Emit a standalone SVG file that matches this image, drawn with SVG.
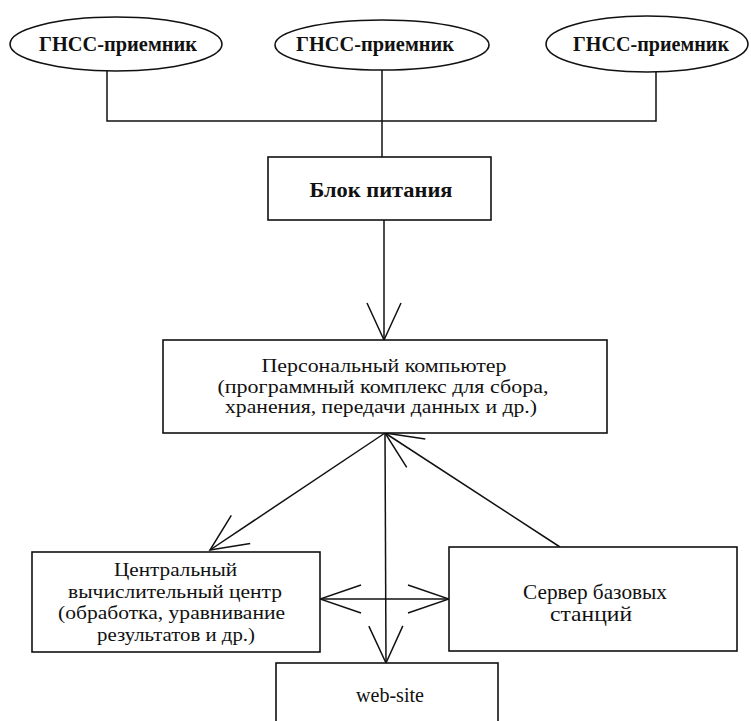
<svg xmlns="http://www.w3.org/2000/svg" width="751" height="721" viewBox="0 0 751 721">
<defs>
<style>
.box{fill:#fff;stroke:#111;stroke-width:1.6}
.ln{fill:none;stroke:#111;stroke-width:1.5}
.t{font-family:"Liberation Serif","Times New Roman",serif;fill:#111;text-anchor:middle}
.b{font-weight:bold;font-size:22px}
.r{font-size:19px}
.p{font-size:18.5px}
.w{font-size:21px}
</style>
<marker id="ah" markerUnits="userSpaceOnUse" viewBox="-40 -20 42 40" refX="0" refY="0" markerWidth="42" markerHeight="40" orient="auto">
<path d="M-37,-17 L0,0 L-37,17" fill="none" stroke="#111" stroke-width="1.5"/>
</marker>
<marker id="ah2" markerUnits="userSpaceOnUse" viewBox="-44 -16 46 32" refX="0" refY="0" markerWidth="46" markerHeight="32" orient="auto">
<path d="M-41,-14 L0,0 L-41,14" fill="none" stroke="#111" stroke-width="1.5"/>
</marker>
</defs>
<rect width="751" height="721" fill="#fff"/>
<g id="connectors">
<path class="ln" d="M107,71 V121 H656 V71"/>
<path class="ln" d="M382,70 V157"/>
<path class="ln" d="M384,220 V340" marker-end="url(#ah)"/>
<path class="ln" d="M385,433 L210,550" marker-end="url(#ah)"/>
<path class="ln" d="M560,547 L385,433" marker-end="url(#ah)"/>
<path class="ln" d="M385,433 L386,663" marker-end="url(#ah)"/>
<path class="ln" d="M384,599 L320,599" marker-end="url(#ah2)"/>
<path class="ln" d="M384,599 L449,599" marker-end="url(#ah2)"/>
</g>
<g id="gnss1">
<ellipse class="box" cx="116" cy="44" rx="106" ry="27"/>
<text class="t b" x="118" y="51" textLength="158" lengthAdjust="spacingAndGlyphs">ГНСС-приемник</text>
</g>
<g id="gnss2">
<ellipse class="box" cx="382" cy="45" rx="107" ry="25"/>
<text class="t b" x="375" y="51" textLength="158" lengthAdjust="spacingAndGlyphs">ГНСС-приемник</text>
</g>
<g id="gnss3">
<ellipse class="box" cx="647" cy="44" rx="101" ry="28"/>
<text class="t b" x="651" y="51" textLength="156" lengthAdjust="spacingAndGlyphs">ГНСС-приемник</text>
</g>
<g id="power">
<rect class="box" x="268" y="157" width="223" height="63"/>
<text class="t b" x="381" y="197" textLength="143" lengthAdjust="spacingAndGlyphs">Блок питания</text>
</g>
<g id="pc">
<rect class="box" x="163" y="340" width="444" height="93"/>
<text class="t p" x="384" y="372" textLength="245" lengthAdjust="spacingAndGlyphs">Персональный компьютер</text>
<text class="t p" x="383" y="392.5" textLength="331" lengthAdjust="spacingAndGlyphs">(программный комплекс для сбора,</text>
<text class="t p" x="381" y="413" textLength="312" lengthAdjust="spacingAndGlyphs">хранения, передачи данных и др.)</text>
</g>
<g id="cvc">
<rect class="box" x="32" y="552" width="288" height="100"/>
<text class="t r" x="175.5" y="576" textLength="123" lengthAdjust="spacingAndGlyphs">Центральный</text>
<text class="t r" x="175" y="597.5" textLength="214" lengthAdjust="spacingAndGlyphs">вычислительный центр</text>
<text class="t r" x="171.5" y="619" textLength="227" lengthAdjust="spacingAndGlyphs">(обработка, уравнивание</text>
<text class="t r" x="176" y="640.5" textLength="158" lengthAdjust="spacingAndGlyphs">результатов и др.)</text>
</g>
<g id="server">
<rect class="box" x="449" y="547" width="288" height="104"/>
<text class="t w" x="595" y="599" textLength="144" lengthAdjust="spacingAndGlyphs">Сервер базовых</text>
<text class="t w" x="591" y="621" textLength="82" lengthAdjust="spacingAndGlyphs">станций</text>
</g>
<g id="website">
<rect class="box" x="276" y="663" width="222" height="70"/>
<text class="t w" x="390" y="702" textLength="68" lengthAdjust="spacingAndGlyphs">web-site</text>
</g>
</svg>
